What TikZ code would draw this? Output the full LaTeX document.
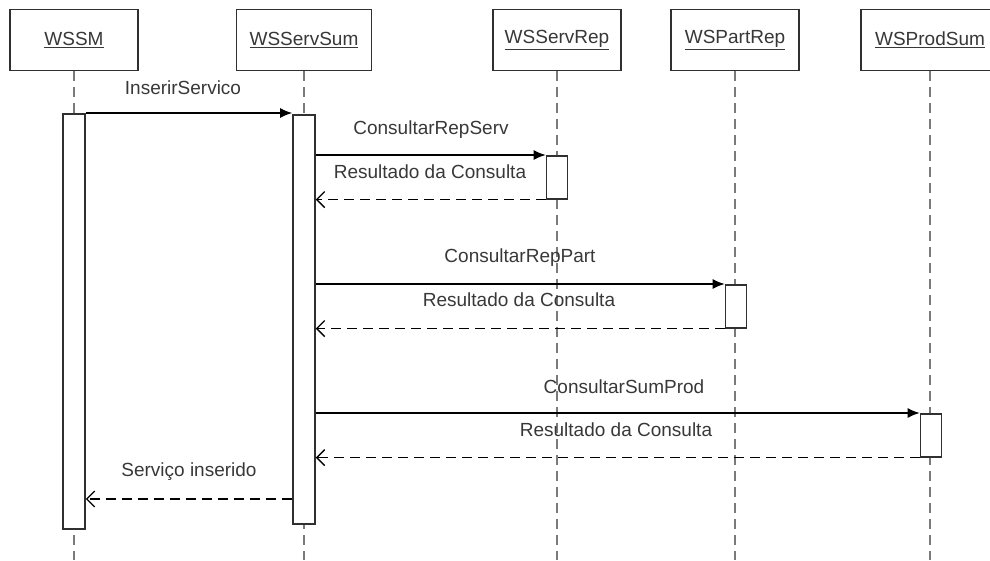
\documentclass[tikz,border=0pt]{standalone}
\usepackage{fontspec}
\setmainfont{Liberation Sans}
\usetikzlibrary{arrows.meta}
\definecolor{linecol}{HTML}{303030}
\definecolor{lifecol}{HTML}{7A7A7A}
\definecolor{txtcol}{HTML}{383838}
\begin{document}
\begin{tikzpicture}[x=1pt,y=-1pt,
  font=\fontsize{19}{22}\selectfont,
  objbox/.style={draw=linecol, line width=1.6pt, fill=white, minimum width=128pt,
    minimum height=61pt, text=txtcol, inner sep=0pt},
  lifeline/.style={draw=lifecol, line width=1.7pt, dash pattern=on 10pt off 6pt},
  actbar/.style={draw=linecol, fill=white, line width=1.6pt, minimum width=21pt,
    inner sep=0pt, anchor=north},
  call/.style={draw=black, line width=1.5pt, -{Latex[length=12pt,width=10pt]}},
  reply/.style={draw=black, line width=1.5pt, dash pattern=on 10pt off 6pt,
    -{Straight Barb[length=8pt,width=16pt,line width=1.3pt]}},
  msg/.style={text=txtcol, inner sep=0pt}]
\useasboundingbox (0,0) rectangle (990,560);

% participants
\node[objbox] (wssm) at (74,40) {\underline{WSSM}};
\node[objbox, minimum width=135pt] (servsum) at (304,40) {\underline{WSServSum}};
\node[objbox] (servrep) at (557,40) {\underline{WSServRep}};
\node[objbox] (partrep) at (735,40) {\underline{WSPartRep}};
\node[objbox, minimum width=138pt] (prodsum) at (930,40) {\underline{WSProdSum}};

% lifelines
\foreach \p in {wssm,servsum,servrep,partrep,prodsum}{
  \coordinate (\p-end) at (\p.south |- 0,560);
  \draw[lifeline] (\p.south) -- (\p-end);
}

% activation bars
\node[actbar, minimum width=22pt, minimum height=415pt] (smbar) at (74,113) {};
\node[actbar, minimum width=22pt, minimum height=409pt] (sumbar) at (304,114) {};
\node[actbar, minimum height=43pt] (repbar) at (557,155) {};
\node[actbar, minimum height=43pt] (partbar) at (736,284) {};
\node[actbar, minimum height=43pt] (prodbar) at (931,413) {};

% messages
\draw[call] (smbar.north east) -- (smbar.north east -| sumbar.west);
\node[msg] (m1) at (183,88) {InserirServico};

\draw[call] (sumbar.east |- repbar.north) -- (repbar.north west);
\node[msg] (m2) at (431,130) {ConsultarRepServ};
\draw[reply] (repbar.south west) -- (sumbar.east |- repbar.south);
\node[msg] (r2) at (430,172) {Resultado da Consulta};

\draw[call] (sumbar.east |- partbar.north) -- (partbar.north west);
\node[msg] (m3) at (520,258) {ConsultarRepPart};
\draw[reply] (partbar.south west) -- (sumbar.east |- partbar.south);
\node[msg] (r3) at (519,300) {Resultado da Consulta};

\draw[call] (sumbar.east |- prodbar.north) -- (prodbar.north west);
\node[msg] (m4) at (624,387) {ConsultarSumProd};
\draw[reply] (prodbar.south west) -- (sumbar.east |- prodbar.south);
\node[msg] (r4) at (616,430) {Resultado da Consulta};

\coordinate (done) at (304,499);
\draw[reply] (sumbar.west |- done) -- (smbar.east |- done);
\node[msg] (m5) at (189,472) {Serviço inserido};
\end{tikzpicture}
\end{document}
